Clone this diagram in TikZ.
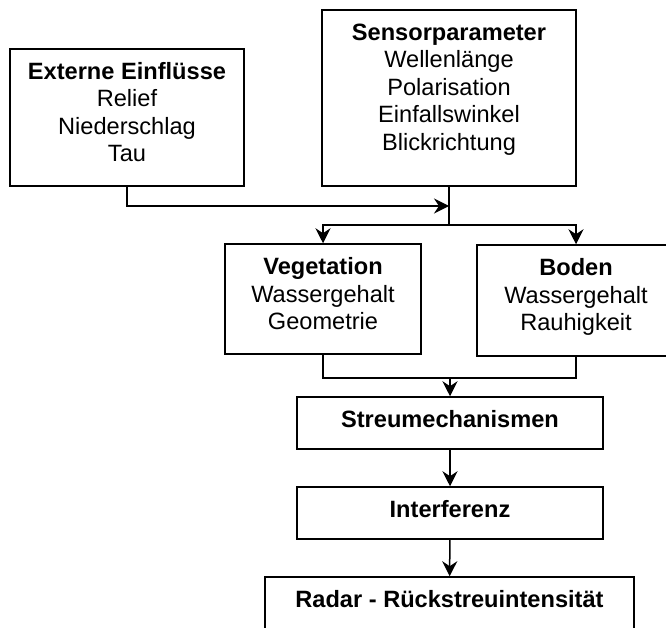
\documentclass[tikz,border=0pt]{standalone}
\usepackage{fontspec}
\setmainfont{Liberation Sans}
\usepackage{tikz}
\usetikzlibrary{arrows.meta}

% box text: height, width, lines (first line hangs 30.5pt below the top)
\newcommand{\boxlines}[3]{\parbox[c][#1][t]{#2}{\centering\rule{0pt}{30.5pt}#3}}

\begin{document}
\begin{tikzpicture}[x=1pt, y=-1pt, line width=1.5pt,
    >={Stealth[length=15pt, width=15pt, inset=5pt]},
    blk/.style={draw, rectangle, inner sep=0pt},
    font=\fontsize{23.6}{27.5}\selectfont]
    \useasboundingbox (0,0) rectangle (666,628);
    \clip (0,0) rectangle (666,628);

    % Input boxes
    \node[blk] (ext) at (127,117.5) {\boxlines{137pt}{234pt}{\textbf{Externe Einflüsse}\\Relief\\Niederschlag\\Tau}};
    \node[blk] (sen) at (449,98) {\boxlines{176pt}{254pt}{\textbf{Sensorparameter}\\Wellenlänge\\Polarisation\\Einfallswinkel\\Blickrichtung}};

    % Target boxes
    \node[blk] (veg) at (323,299) {\boxlines{110pt}{196pt}{\textbf{Vegetation}\\Wassergehalt\\Geometrie}};
    \node[blk] (bod) at (576,300.5) {\boxlines{111pt}{198pt}{\textbf{Boden}\\Wassergehalt\\Rauhigkeit}};

    % Chain at the bottom
    \node[blk] (str) at (450,423) {\boxlines{52pt}{306pt}{\textbf{Streumechanismen}}};
    \node[blk] (itf) at (450,513) {\boxlines{52pt}{306pt}{\textbf{Interferenz}}};
    \node[blk] (rad) at (449.5,603) {\boxlines{52pt}{369pt}{\textbf{Radar - Rückstreuintensität}}};

    % Junctions
    \coordinate (inJ) at (449,206);
    \coordinate (outJ) at (449,225);
    \coordinate (mergeJ) at (450,378);

    % Connectors
    \draw (sen.south) -- (outJ);
    \draw[->] (ext.south) |- (inJ);
    \draw[->] (outJ) -| (veg.north);
    \draw[->] (outJ) -| (bod.north);
    \draw (veg.south) |- (mergeJ) -| (bod.south);
    \draw[->] (mergeJ) -- (str.north);
    \draw[->] (str) -- (itf);
    \draw[->] (itf) -- (rad);

\end{tikzpicture}
\end{document}
